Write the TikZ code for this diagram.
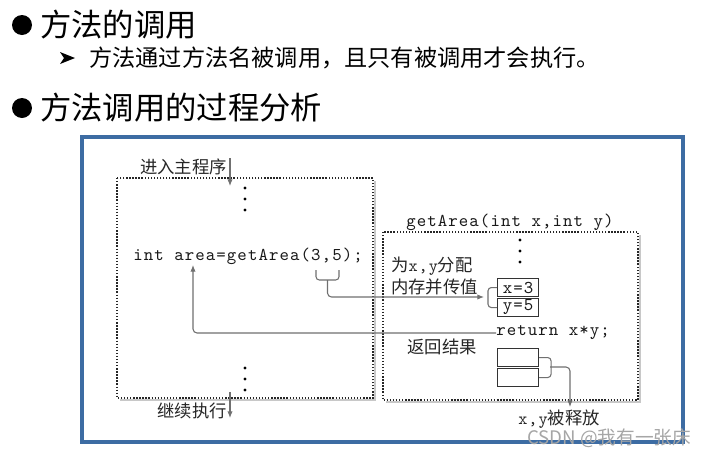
\documentclass[tikz,border=0pt]{standalone}
\usepackage{fontspec}
\newfontfamily\codefont{lmmono10-regular.otf}[LetterSpace=6]
\newfontfamily\cjk{Noto Sans CJK SC}
\usetikzlibrary{arrows.meta}
\definecolor{frameblue}{HTML}{3D6CA3}
\definecolor{linegray}{HTML}{707070}
\definecolor{shadowgray}{HTML}{C8C8C8}
\begin{document}
\begin{tikzpicture}[x=0.75pt,y=-0.75pt,
  lbl/.style={inner sep=0pt,text=black!85,font=\cjk\fontsize{13}{15}\selectfont},
  code/.style={inner sep=0pt,text=black!90,font=\codefont\fontsize{13.5}{15}\selectfont},
  head/.style={inner sep=0pt,anchor=west,font=\cjk\fontsize{23.5}{26}\selectfont},
  subhead/.style={inner sep=0pt,anchor=west,font=\cjk\fontsize{17.4}{20}\selectfont},
  dotbox/.style={draw=black!85,line width=1.05pt,dash pattern=on 1.05pt off 1.25pt},
  shadow/.style={draw=shadowgray,line width=1.6pt},
  cell/.style={draw=black!80,line width=0.8pt},
  conn/.style={draw=linegray,line width=0.8pt},
  arr/.style={conn,-{Latex[length=5pt,width=4pt]}},
  dot/.style={fill=black,circle,inner sep=0pt,minimum size=2.4pt},
  bullet/.style={fill=black,circle,inner sep=0pt,minimum size=15pt}]
\useasboundingbox (0,0) rectangle (713,454);
\fill[white] (0,0) rectangle (713,454);

% header
\node[bullet] (b1) at (22,25) {};
\node[head] (h1) at (40,25) {方法的调用};
\fill (60,52) -- (75,58) -- (60,64) -- (64,58) -- cycle;
\node[subhead] (h2) at (89,58) {方法通过方法名被调用，且只有被调用才会执行。};
\node[bullet] (b2) at (22,108) {};
\node[head] (h3) at (40,108) {方法调用的过程分析};

% frame
\draw[frameblue,line width=2.4pt] (82,137) rectangle (683,442);

% left dotted box (main)
\draw[shadow] (375,181) -- (375,400) -- (120,400);
\draw[dotbox] (117,178) rectangle (373,398);
% right dotted box (method)
\draw[shadow] (640,235) -- (640,402) -- (386,402);
\draw[dotbox] (383,232) rectangle (638,400);

% entering main
\node[lbl,anchor=east] (enter) at (227,167) {进入主程序};
\coordinate (enterTop) at (230,158);
\coordinate (enterIn) at (230,186);
\draw[arr] (enterTop) -- (enterIn);
\node[dot] (d1) at (245,188) {};
\node[dot] (d2) at (245,199) {};
\node[dot] (d3) at (245,210) {};

% call
\node[code,anchor=west] (call) at (133,256) {int area=getArea(3,5);};
\coordinate (brL) at (316,270);
\coordinate (brR) at (339,270);
\coordinate (brM) at (327.5,280);
\draw[conn,rounded corners=2.5pt] (brL) |- (brM) -| (brR);
\coordinate (argBrace) at (484,297);
\draw[arr,rounded corners=3pt] (brM) |- (argBrace);

% method header
\node[code,anchor=west] (sig) at (406,222) {getArea(int x,int y)};
\node[dot] (e1) at (520,240) {};
\node[dot] (e2) at (520,251) {};
\node[dot] (e3) at (520,262) {};

\node[lbl,anchor=west] (alloc1) at (391,266) {为{\codefont x,y}分配};
\node[lbl,anchor=west] (alloc2) at (391,287) {内存并传值};

% parameter cells
\node[cell,minimum width=30.75pt,minimum height=13.5pt,inner sep=0pt,anchor=north west,code] (px) at (497,278) {x=3};
\node[cell,minimum width=30.75pt,minimum height=13.5pt,inner sep=0pt,anchor=north west,code] (py) at (497,298) {y=5};
\draw[conn,rounded corners=2.5pt] (px.west) -- ++(-9,0) |- (py.west);

% return
\node[code,anchor=west] (ret) at (496,333) {return x*y;};
\coordinate (areaPt) at (193,265);
\draw[arr,rounded corners=3pt] (ret.west) -| (areaPt);
\node[lbl] (retlbl) at (442,347) {返回结果};

% released cells
\node[cell,minimum width=30.75pt,minimum height=13.5pt,inner sep=0pt,anchor=north west] (qx) at (497,348) {};
\node[cell,minimum width=30.75pt,minimum height=13.5pt,inner sep=0pt,anchor=north west] (qy) at (497,368) {};
\coordinate (relM) at (550,367);
\coordinate (relEnd) at (570,407);
\draw[conn,rounded corners=2.5pt] (qx.east) -- ++(12,0) |- (qy.east);
\draw[arr,rounded corners=3pt] (relM) -| (relEnd);
\node[lbl] (rel) at (559,419) {{\codefont x,y}被释放};

% continue
\node[dot] (f1) at (245,368) {};
\node[dot] (f2) at (245,379) {};
\node[dot] (f3) at (245,390) {};
\node[lbl,anchor=east] (cont) at (227,411) {继续执行};
\coordinate (contTop) at (230,392);
\coordinate (contEnd) at (230,418);
\draw[arr] (contTop) -- (contEnd);

% watermark
\node[inner sep=0pt,anchor=west,text=black!35,font=\cjk\fontsize{14}{16}\selectfont] (wm) at (527,438) {CSDN @我有一张床};
\end{tikzpicture}
\end{document}
